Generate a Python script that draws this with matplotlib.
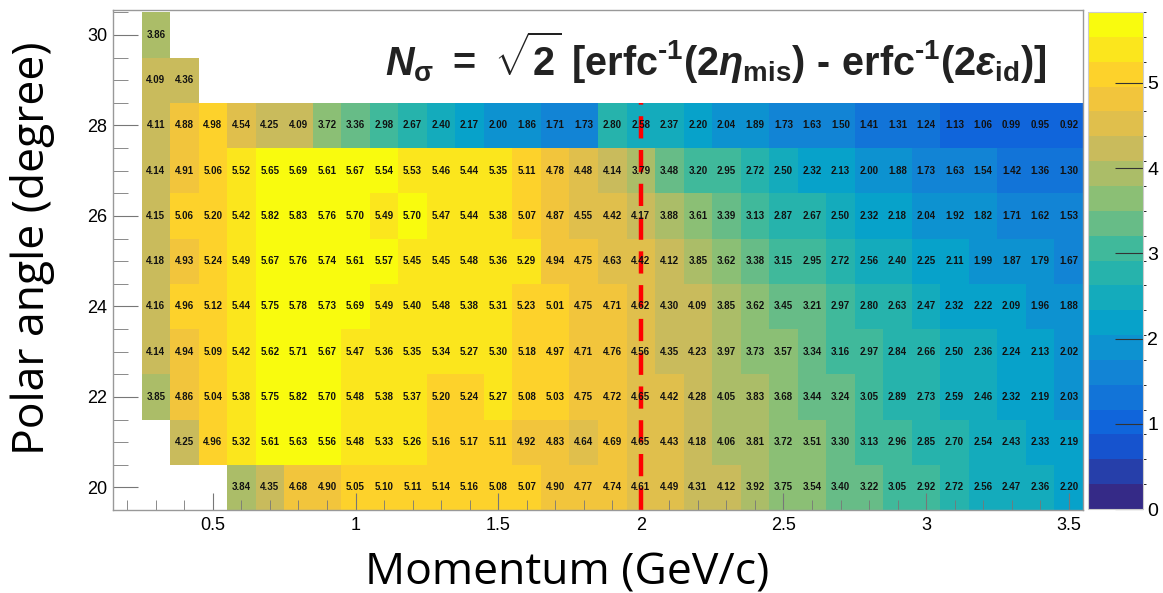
import numpy as np
import matplotlib
matplotlib.use("Agg")
import matplotlib.pyplot as plt
from matplotlib.colors import ListedColormap, BoundaryNorm, LinearSegmentedColormap
from matplotlib.colorbar import ColorbarBase

# Bin edges of the 2D histogram
p_edges = np.arange(0.25, 3.56, 0.1)      # momentum (GeV/c), 33 bins
theta_edges = np.arange(19.5, 30.6, 1.0)  # polar angle (degree), 11 bins

# N_sigma per polar-angle row (columns: 0.3 ... 3.5 GeV/c), None = empty bin
row_20 = [None, None, None, 3.84, 4.35, 4.68, 4.90, 5.05, 5.10, 5.11, 5.14,
          5.16, 5.08, 5.07, 4.90, 4.77, 4.74, 4.61, 4.49, 4.31, 4.12, 3.92,
          3.75, 3.54, 3.40, 3.22, 3.05, 2.92, 2.72, 2.56, 2.47, 2.36, 2.20]
row_21 = [None, 4.25, 4.96, 5.32, 5.61, 5.63, 5.56, 5.48, 5.33, 5.26, 5.16,
          5.17, 5.11, 4.92, 4.83, 4.64, 4.69, 4.65, 4.43, 4.18, 4.06, 3.81,
          3.72, 3.51, 3.30, 3.13, 2.96, 2.85, 2.70, 2.54, 2.43, 2.33, 2.19]
row_22 = [3.85, 4.86, 5.04, 5.38, 5.75, 5.82, 5.70, 5.48, 5.38, 5.37, 5.20,
          5.24, 5.27, 5.08, 5.03, 4.75, 4.72, 4.65, 4.42, 4.28, 4.05, 3.83,
          3.68, 3.44, 3.24, 3.05, 2.89, 2.73, 2.59, 2.46, 2.32, 2.19, 2.03]
row_23 = [4.14, 4.94, 5.09, 5.42, 5.62, 5.71, 5.67, 5.47, 5.36, 5.35, 5.34,
          5.27, 5.30, 5.18, 4.97, 4.71, 4.76, 4.56, 4.35, 4.23, 3.97, 3.73,
          3.57, 3.34, 3.16, 2.97, 2.84, 2.66, 2.50, 2.36, 2.24, 2.13, 2.02]
row_24 = [4.16, 4.96, 5.12, 5.44, 5.75, 5.78, 5.73, 5.69, 5.49, 5.40, 5.48,
          5.38, 5.31, 5.23, 5.01, 4.75, 4.71, 4.62, 4.30, 4.09, 3.85, 3.62,
          3.45, 3.21, 2.97, 2.80, 2.63, 2.47, 2.32, 2.22, 2.09, 1.96, 1.88]
row_25 = [4.18, 4.93, 5.24, 5.49, 5.67, 5.76, 5.74, 5.61, 5.57, 5.45, 5.45,
          5.48, 5.36, 5.29, 4.94, 4.75, 4.63, 4.42, 4.12, 3.85, 3.62, 3.38,
          3.15, 2.95, 2.72, 2.56, 2.40, 2.25, 2.11, 1.99, 1.87, 1.79, 1.67]
row_26 = [4.15, 5.06, 5.20, 5.42, 5.82, 5.83, 5.76, 5.70, 5.49, 5.70, 5.47,
          5.44, 5.38, 5.07, 4.87, 4.55, 4.42, 4.17, 3.88, 3.61, 3.39, 3.13,
          2.87, 2.67, 2.50, 2.32, 2.18, 2.04, 1.92, 1.82, 1.71, 1.62, 1.53]
row_27 = [4.14, 4.91, 5.06, 5.52, 5.65, 5.69, 5.61, 5.67, 5.54, 5.53, 5.46,
          5.44, 5.35, 5.11, 4.78, 4.48, 4.14, 3.79, 3.48, 3.20, 2.95, 2.72,
          2.50, 2.32, 2.13, 2.00, 1.88, 1.73, 1.63, 1.54, 1.42, 1.36, 1.30]
row_28 = [4.11, 4.88, 4.98, 4.54, 4.25, 4.09, 3.72, 3.36, 2.98, 2.67, 2.40,
          2.17, 2.00, 1.86, 1.71, 1.73, 2.80, 2.58, 2.37, 2.20, 2.04, 1.89,
          1.73, 1.63, 1.50, 1.41, 1.31, 1.24, 1.13, 1.06, 0.99, 0.95, 0.92]
row_29 = [4.09, 4.36] + [None] * 31
row_30 = [3.86] + [None] * 32

rows = [row_20, row_21, row_22, row_23, row_24, row_25,
        row_26, row_27, row_28, row_29, row_30]
z = np.array([[np.nan if v is None else v for v in r] for r in rows])

# ROOT kBird palette, 20 contour levels
bird_r = [0.2082, 0.0592, 0.0780, 0.0232, 0.1802, 0.5301, 0.8186, 0.9956, 0.9764]
bird_g = [0.1664, 0.3599, 0.5041, 0.6419, 0.7178, 0.7492, 0.7328, 0.7862, 0.9832]
bird_b = [0.5293, 0.8684, 0.8385, 0.7914, 0.6425, 0.4662, 0.3499, 0.1968, 0.0539]
bird = LinearSegmentedColormap.from_list(
    "bird", list(zip(np.linspace(0, 1, 9), zip(bird_r, bird_g, bird_b))))
n_levels = 20
cmap = ListedColormap(bird(np.linspace(0, 1, n_levels)))
levels = np.linspace(0, np.nanmax(z), n_levels + 1)
norm = BoundaryNorm(levels, cmap.N)

plt.rcParams['font.family'] = ['Liberation Sans', 'DejaVu Sans']
plt.rcParams['mathtext.fontset'] = 'custom'
plt.rcParams['mathtext.rm'] = 'Liberation Sans:bold'
plt.rcParams['mathtext.it'] = 'Liberation Sans:bold:italic'
plt.rcParams['mathtext.bf'] = 'Liberation Sans:bold'

fig = plt.figure(figsize=(11.63, 5.93), dpi=100)
ax = fig.add_axes([113 / 1163, 83 / 593, 970 / 1163, 500 / 593])

ax.pcolormesh(p_edges, theta_edges, z, cmap=cmap, norm=norm, edgecolors='none')

# bin contents as text
p_centers = 0.5 * (p_edges[:-1] + p_edges[1:])
theta_centers = 0.5 * (theta_edges[:-1] + theta_edges[1:])
for i, th in enumerate(theta_centers):
    for j, p in enumerate(p_centers):
        if not np.isnan(z[i, j]):
            ax.text(p, th, f"{z[i, j]:.2f}", ha='center', va='center',
                    fontsize=7, fontweight='bold', color='#111111')

# momentum cut line
ax.vlines(2.0, 19.5, 28.5, colors='red', linestyles=(0, (5, 2.6)), linewidth=3.2)

ax.set_xlim(0.15, 3.55)
ax.set_ylim(19.5, 30.55)
ax.set_xticks([0.5, 1, 1.5, 2, 2.5, 3, 3.5])
ax.set_xticklabels(['0.5', '1', '1.5', '2', '2.5', '3', '3.5'])
ax.set_xticks(np.arange(0.2, 3.55, 0.1), minor=True)
ax.set_yticks([20, 22, 24, 26, 28, 30])
ax.set_yticks(np.arange(19.5, 30.6, 0.5), minor=True)
ax.tick_params(axis='both', which='both', direction='in', color='#777777',
               labelsize=13, top=False, right=False)
ax.tick_params(axis='x', which='major', length=12, pad=5)
ax.tick_params(axis='x', which='minor', length=7)
ax.tick_params(axis='y', which='major', length=18, pad=4)
ax.tick_params(axis='y', which='minor', length=11)
for s in ax.spines.values():
    s.set_color('#999999')
    s.set_linewidth(1.0)

# axis titles (placed like in the original slide)
fig.text(567 / 1163, 1 - 573 / 593, 'Momentum (GeV/c)', fontsize=32,
         family=['Open Sans', 'DejaVu Sans'], ha='center', va='center')
fig.text(33 / 1163, 1 - 248 / 593, 'Polar angle (degree)', fontsize=32,
         family=['Open Sans', 'DejaVu Sans'], ha='center', va='center', rotation=90)

ax.text(0.962, 0.905,
        r'$N_{\mathrm{\sigma}}\ \mathrm{=}\ \sqrt{\mathrm{2}}\ \mathrm{[erfc^{\text{-}1}(2}\eta_{\mathrm{mis}}'
        r'\mathrm{)\ \text{-}\ erfc^{\text{-}1}(2}\varepsilon_{\mathrm{id}}\mathrm{)]}$',
        transform=ax.transAxes, ha='right', va='center', fontsize=28.5, color='#222222')

# palette axis
cax = fig.add_axes([1088 / 1163, 84 / 593, 55 / 1163, 497 / 593])
cb = ColorbarBase(cax, cmap=cmap, norm=norm, boundaries=levels,
                  orientation='vertical', spacing='proportional')
cb.set_ticks([0, 1, 2, 3, 4, 5])
cb.set_ticklabels(['0', '1', '2', '3', '4', '5'])
cax.tick_params(direction='in', length=20, color='#333333', labelsize=14, pad=3)
cb.outline.set_edgecolor('#cccccc')

plt.savefig('out.png', dpi=100)
